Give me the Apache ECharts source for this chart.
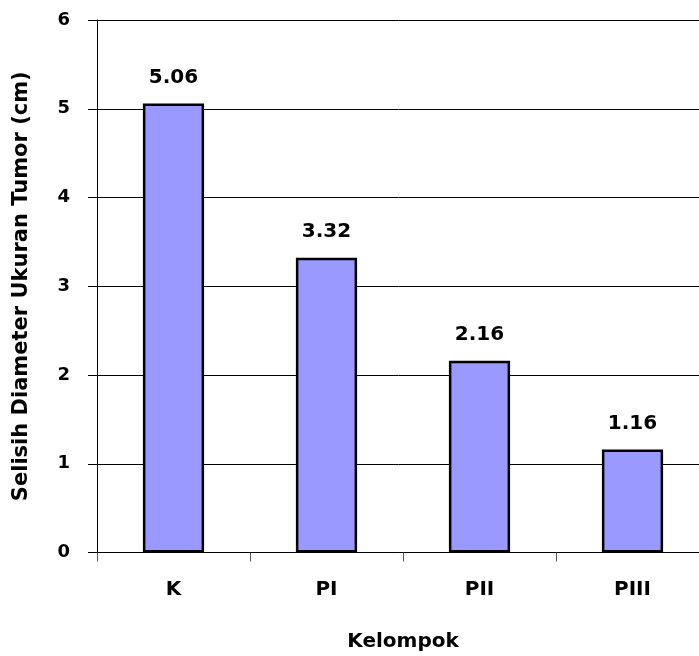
<!DOCTYPE html>
<html><head><meta charset="utf-8">
<style>html,body{margin:0;padding:0;background:#fff}#c{width:699px;height:656px}</style>
<script src="https://cdn.jsdelivr.net/npm/echarts@6/dist/echarts.min.js"></script>
</head><body><div id="c"></div>
<script>
const categories = ['K', 'PI', 'PII', 'PIII'];
const values = [5.06, 3.32, 2.16, 1.16];
const yTicks = [0, 1, 2, 3, 4, 5, 6];
const xName = 'Kelompok';
const yName = 'Selisih Diameter Ukuran Tumor (cm)';
const FONT = '"DejaVu Sans", sans-serif';
const chart = echarts.init(document.getElementById('c'), null, {renderer: 'canvas'});
chart.setOption({
  animation: false,
  grid: {left: 97, right: -10, top: 20, bottom: 103.5, containLabel: false, outerBoundsMode: 'none'},
  xAxis: {
    type: 'category', data: categories,
    name: xName, nameLocation: 'middle', nameGap: 79,
    nameTextStyle: {fontFamily: FONT, fontWeight: 'bold', fontSize: 20, color: '#000'},
    axisLine: {lineStyle: {color: '#000', width: 1}},
    axisTick: {show: true, alignWithLabel: false, length: 9, lineStyle: {color: '#555'}},
    axisLabel: {fontFamily: FONT, fontWeight: 'bold', fontSize: 20, color: '#000', margin: 27}
  },
  yAxis: {
    type: 'value', min: yTicks[0], max: yTicks[yTicks.length - 1], interval: 1,
    name: yName, nameLocation: 'middle', nameGap: 65, nameRotate: 90,
    nameTextStyle: {fontFamily: FONT, fontWeight: 'bold', fontSize: 21, color: '#000'},
    axisLine: {show: true, lineStyle: {color: '#000', width: 1}},
    axisTick: {show: true, length: 9, lineStyle: {color: '#000'}},
    axisLabel: {fontFamily: FONT, fontWeight: 'bold', fontSize: 18, color: '#000', margin: 27},
    splitLine: {show: true, lineStyle: {color: '#000', width: 1}}
  },
  series: [{
    type: 'bar', data: values, barWidth: '40%',
    itemStyle: {color: '#9999FF', borderColor: '#000', borderWidth: 2.5},
    label: {show: true, position: 'top', distance: 16, formatter: p => p.value.toFixed(2),
      fontFamily: FONT, fontWeight: 'bold', fontSize: 20, color: '#000'}
  }]
});
</script></body></html>
